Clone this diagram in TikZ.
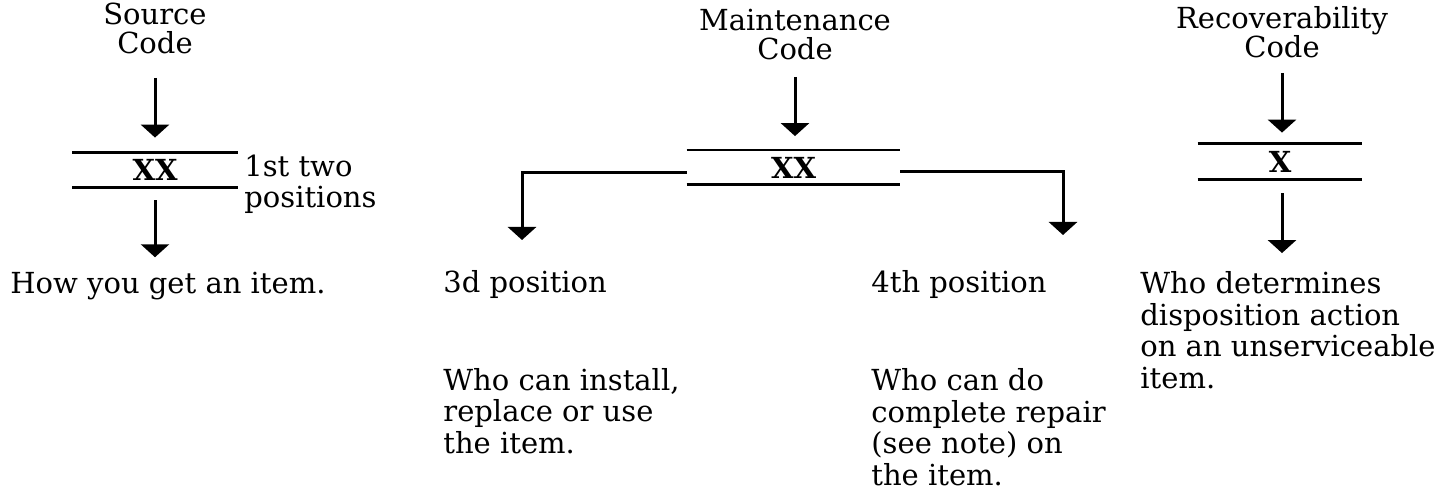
\documentclass[tikz,border=0pt]{standalone}
\usepackage{fontspec}
\setmainfont{DejaVu Serif}
\usetikzlibrary{positioning, arrows.meta}

\begin{document}
\begin{tikzpicture}[x=0.5pt, y=-0.5pt,
    every node/.style={font=\fontsize{14.5}{15.75}\selectfont, inner sep=0pt},
    header/.style={align=center, anchor=base, font=\fontsize{14.5}{14.5}\selectfont},
    note/.style={align=left, anchor=base west},
    slotbox/.style={minimum height=17pt, font=\fontsize{14.5}{15.75}\selectfont\bfseries},
    slotline/.style={line width=1.4pt},
    flow/.style={line width=1.5pt, -{Triangle[width=14pt, length=6.5pt]}}]
  \useasboundingbox (0,0) rectangle (1450,491);

  % source code
  \node[header] (srchead) at (155,54) {Source\\Code};
  \node[slotbox, minimum width=82.5pt] (srcbox) at (155,170) {XX};
  \draw[slotline] (srcbox.north west) -- (srcbox.north east);
  \draw[slotline] (srcbox.south west) -- (srcbox.south east);
  \node[note] (srcside) at (244,208) {1st two\\positions};
  \node[note] (srcnote) at (10,294) {How you get an item.};
  \draw[flow, shorten <=11.5pt, shorten >=7.5pt] (srchead) -- (srcbox);
  \draw[flow, shorten <=6.5pt, shorten >=7.5pt] (srcbox.south) -- (srcbox.south |- srcnote.north);

  % maintenance code
  \node[header] (mnthead) at (795,60) {Maintenance\\Code};
  \node[slotbox, minimum width=106.5pt] (mntbox) at (793.5,167.5) {XX};
  \draw[slotline] (mntbox.north west) -- (mntbox.north east);
  \draw[slotline] (mntbox.south west) -- (mntbox.south east);
  \coordinate (lefttip) at (522,240);
  \coordinate (righttip) at (1063,235);
  \draw[flow, shorten <=8pt, shorten >=7pt] (mnthead) -- (mnthead |- mntbox.north);
  \draw[flow] ([yshift=-2.5pt]mntbox.west) -| (lefttip);
  \draw[flow] ([yshift=-2pt]mntbox.east) -| (righttip);
  \node[note] (pos3) at (443,293) {3d position};
  \node[note] (use3) at (443,453) {Who can install,\\replace or use\\the item.};
  \node[note] (pos4) at (871,293) {4th position};
  \node[note] (rep4) at (871,485) {Who can do\\complete repair\\(see note) on\\the item.};

  % recoverability code
  \node[header] (rechead) at (1282,58) {Recoverability\\Code};
  \node[slotbox, minimum width=82pt, minimum height=17.5pt] (recbox) at (1280,161.5) {X};
  \draw[slotline] (recbox.north west) -- (recbox.north east);
  \draw[slotline] (recbox.south west) -- (recbox.south east);
  \node[note] (recnote) at (1140,388) {Who determines\\disposition action\\on an unserviceable\\item.};
  \draw[flow, shorten <=7pt, shorten >=5.5pt] (rechead) -- (rechead |- recbox.north);
  \draw[flow, shorten <=7pt, shorten >=9pt] (rechead |- recbox.south) -- (rechead |- recnote.north);
\end{tikzpicture}
\end{document}
